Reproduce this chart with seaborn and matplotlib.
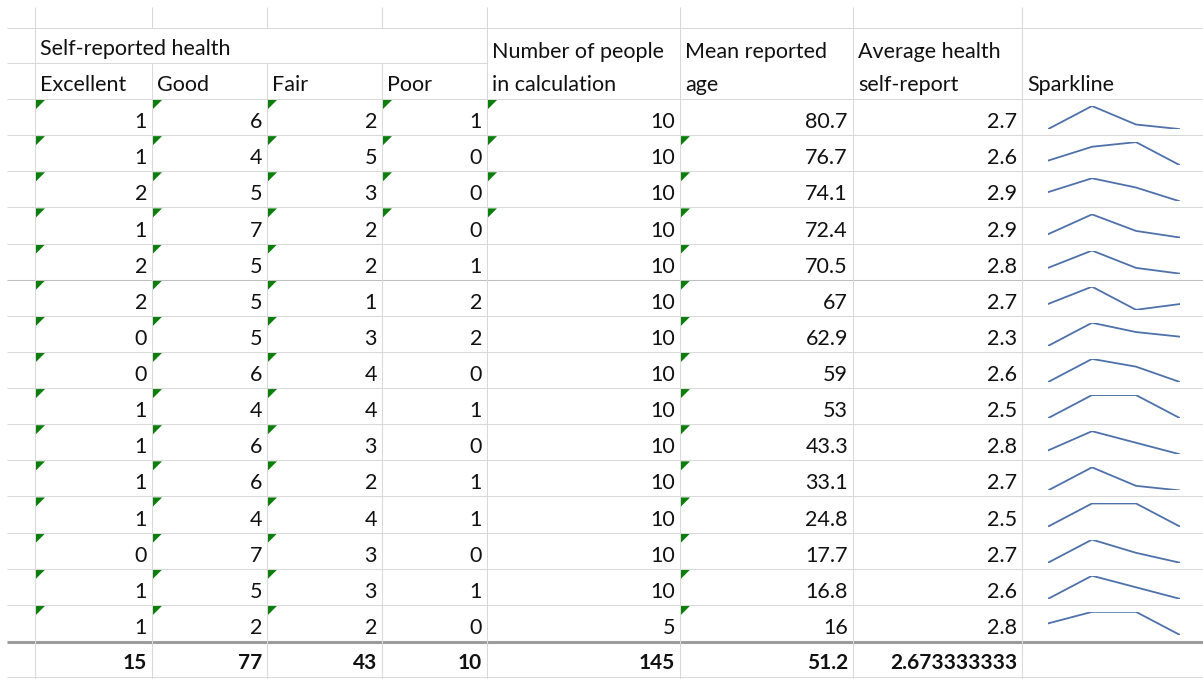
import matplotlib
matplotlib.use("Agg")
import matplotlib.pyplot as plt
import seaborn as sns
import numpy as np
import pandas as pd

# table values, one list per column
excellent = [1, 1, 2, 1, 2, 2, 0, 0, 1, 1, 1, 1, 0, 1, 1]
good = [6, 4, 5, 7, 5, 5, 5, 6, 4, 6, 6, 4, 7, 5, 2]
fair = [2, 5, 3, 2, 2, 1, 3, 4, 4, 3, 2, 4, 3, 3, 2]
poor = [1, 0, 0, 0, 1, 2, 2, 0, 1, 0, 1, 1, 0, 1, 0]
n_people = [10, 10, 10, 10, 10, 10, 10, 10, 10, 10, 10, 10, 10, 10, 5]
mean_age = [80.7, 76.7, 74.1, 72.4, 70.5, 67, 62.9, 59, 53, 43.3, 33.1, 24.8, 17.7, 16.8, 16]
avg_health = [2.7, 2.6, 2.9, 2.9, 2.8, 2.7, 2.3, 2.6, 2.5, 2.8, 2.7, 2.5, 2.7, 2.6, 2.8]

health_labels = ["Excellent", "Good", "Fair", "Poor"]
group_header = "Self-reported health"
other_headers = [["Number of people", "in calculation"],
                 ["Mean reported", "age"],
                 ["Average health", "self-report"]]
spark_header = "Sparkline"

# cells showing Excel's green "number stored as text" flag (row indices)
flag_rows = {
    0: list(range(15)),
    1: list(range(15)),
    2: list(range(15)),
    3: [0, 1, 2, 3],
    4: [0, 1, 2, 3],
    5: list(range(1, 15)),
}

df = pd.DataFrame({"Excellent": excellent, "Good": good, "Fair": fair, "Poor": poor,
                   "N": n_people, "Age": mean_age, "Avg": avg_health})

totals = [str(sum(excellent)), str(sum(good)), str(sum(fair)), str(sum(poor)),
          str(sum(n_people)), f"{np.mean(mean_age):g}", f"{np.mean(avg_health):.9f}"]

# ---- layout (pixels) ----
W, H = 1203, 679
col_x = [35, 152, 267, 382, 487, 680, 853, 1022, 1203]
rows_y = np.linspace(99, 641, 16)
total_top, total_bot = 643, 677
grid_c = "#d9d9d9"
text_c = "#111111"

sns.set_theme(style="white")
plt.rcParams["font.family"] = ["Lato", "DejaVu Sans"]
FS = 15.5

fig = plt.figure(figsize=(W / 100, H / 100), dpi=100)
ax = fig.add_axes([0, 0, 1, 1])
ax.set_xlim(0, W)
ax.set_ylim(H, 0)
ax.axis("off")

lw = 0.75
# horizontal grid
ax.hlines(28, 7, W, color=grid_c, lw=lw)
ax.hlines(63, 7, col_x[4], color=grid_c, lw=lw)
for i, y in enumerate(rows_y[:-1]):
    c = "#bdbdbd" if i == 5 else grid_c
    ax.hlines(y, 7, W, color=c, lw=lw)
ax.hlines(641.5, 7, W, color="#9c9c9c", lw=2.2)
ax.hlines(total_bot, 7, W, color=grid_c, lw=lw)

# vertical grid
for j, x in enumerate(col_x[:-1]):
    if j in (1, 2, 3):
        ax.vlines(x, 7, 28, color=grid_c, lw=lw)
        ax.vlines(x, 63, H, color=grid_c, lw=lw)
    else:
        ax.vlines(x, 7, H, color=grid_c, lw=lw)

# headers
ax.text(col_x[0] + 5, 55, group_header, fontsize=FS, color=text_c, va="baseline")
for j, lab in enumerate(health_labels):
    ax.text(col_x[j] + 5, 91, lab, fontsize=FS, color=text_c, va="baseline")
for k, lines in enumerate(other_headers):
    ax.text(col_x[4 + k] + 5, 58, lines[0], fontsize=FS, color=text_c, va="baseline")
    ax.text(col_x[4 + k] + 5, 91, lines[1], fontsize=FS, color=text_c, va="baseline")
ax.text(col_x[7] + 5, 91, spark_header, fontsize=FS, color=text_c, va="baseline")

# data cells
for i in range(len(df)):
    top, bot = rows_y[i], rows_y[i + 1]
    for j, col in enumerate(df.columns):
        v = df.iloc[i, j]
        ax.text(col_x[j + 1] - 5, bot - 7, f"{v:g}", fontsize=FS, color=text_c,
                ha="right", va="baseline")
    for j, rws in flag_rows.items():
        if i in rws:
            x0 = col_x[j] + 1
            ax.fill([x0, x0 + 9, x0], [top + 1, top + 1, top + 10],
                    color="#0a7d0a", lw=0)

# totals row
for j, t in enumerate(totals):
    ax.text(col_x[j + 1] - 5, total_bot - 8, t, fontsize=FS - 0.5, color=text_c,
            ha="right", va="baseline", fontweight="bold")

# sparklines
for i in range(len(df)):
    top, bot = rows_y[i], rows_y[i + 1]
    sx0, sx1 = 1048, 1180
    sy0, sy1 = top + 7, bot - 6
    sax = fig.add_axes([sx0 / W, 1 - sy1 / H, (sx1 - sx0) / W, (sy1 - sy0) / H])
    vals = df.loc[i, health_labels].astype(float).values
    sns.lineplot(x=np.arange(4), y=vals, ax=sax, color="#4f71aa", lw=1.3)
    sax.set_xlim(0, 3)
    lo, hi = vals.min(), vals.max()
    sax.set_ylim(lo, hi)
    sax.axis("off")
    sax.patch.set_alpha(0)

fig.savefig("out.png", dpi=100)
